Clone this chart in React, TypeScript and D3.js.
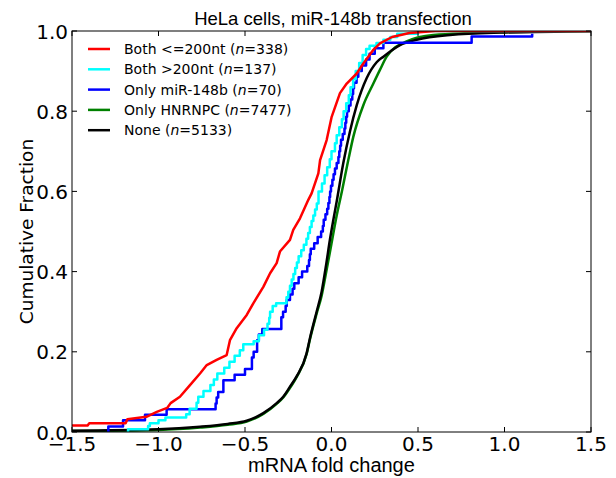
import React from "react";
import * as d3 from "d3";

const xTicks = [-1.5, -1.0, -0.5, 0.0, 0.5, 1.0, 1.5];
const yTicks = [0.0, 0.2, 0.4, 0.6, 0.8, 1.0];

const seriesNames = ["Both <=200nt", "Both >200nt", "Only miR-148b", "Only HNRNPC", "None"];
const seriesN = ["338", "137", "70", "7477", "5133"];
const seriesColors = ["#ff0000", "#00ffff", "#0000ff", "#008000", "#000000"];

// [fold change, cumulative fraction]
const redPts: [number, number][] = [[-1.6,0.016],[-1.41,0.016],[-1.40,0.022],[-1.19,0.022],[-1.18,0.032],[-1.07,0.038],[-1.01,0.05],[-0.95,0.06],[-0.93,0.072],[-0.876,0.088],[-0.818,0.117],[-0.76,0.146],[-0.721,0.167],[-0.664,0.18],[-0.606,0.192],[-0.587,0.229],[-0.548,0.259],[-0.49,0.292],[-0.452,0.321],[-0.394,0.362],[-0.355,0.396],[-0.317,0.421],[-0.298,0.45],[-0.24,0.479],[-0.221,0.504],[-0.182,0.533],[-0.134,0.579],[-0.115,0.595],[-0.076,0.645],[-0.066,0.678],[-0.028,0.728],[0.001,0.786],[0.049,0.845],[0.088,0.869],[0.146,0.894],[0.184,0.919],[0.242,0.953],[0.28,0.969],[0.35,0.985],[0.45,0.995],[0.6,1.0],[1.6,1.0]];

const cyanPts: [number, number][] = [[-1.176,0.007],[-1.06,0.015],[-1.05,0.022],[-1.0,0.029],[-0.96,0.036],[-0.84,0.044],[-0.82,0.058],[-0.78,0.073],[-0.77,0.088],[-0.74,0.102],[-0.70,0.117],[-0.68,0.131],[-0.66,0.146],[-0.62,0.16],[-0.59,0.175],[-0.56,0.19],[-0.53,0.204],[-0.51,0.219],[-0.45,0.226],[-0.42,0.241],[-0.39,0.255],[-0.37,0.27],[-0.36,0.285],[-0.355,0.3],[-0.34,0.314],[-0.32,0.321],[-0.26,0.336],[-0.25,0.35],[-0.24,0.365],[-0.23,0.38],[-0.22,0.394],[-0.21,0.409],[-0.2,0.423],[-0.19,0.438],[-0.175,0.453],[-0.16,0.467],[-0.145,0.482],[-0.135,0.496],[-0.125,0.511],[-0.115,0.526],[-0.105,0.54],[-0.095,0.555],[-0.085,0.57],[-0.075,0.6],[-0.055,0.62],[-0.04,0.64],[-0.025,0.66],[-0.01,0.68],[0.0,0.7],[0.02,0.72],[0.03,0.74],[0.045,0.76],[0.06,0.78],[0.07,0.8],[0.085,0.82],[0.1,0.84],[0.11,0.86],[0.125,0.88],[0.14,0.9],[0.16,0.92],[0.18,0.94],[0.2,0.955],[0.22,0.963],[0.26,0.97],[0.3,0.978],[0.34,0.985],[0.38,0.993],[0.5,1.0],[1.6,1.0]];

const bluePts: [number, number][] = [[-1.29,0.014],[-1.205,0.029],[-1.078,0.043],[-0.953,0.057],[-0.67,0.071],[-0.664,0.086],[-0.655,0.1],[-0.625,0.129],[-0.56,0.143],[-0.5,0.157],[-0.46,0.186],[-0.45,0.2],[-0.43,0.229],[-0.42,0.243],[-0.40,0.257],[-0.29,0.286],[-0.28,0.3],[-0.265,0.314],[-0.259,0.329],[-0.24,0.343],[-0.225,0.357],[-0.215,0.371],[-0.19,0.386],[-0.17,0.4],[-0.14,0.414],[-0.13,0.429],[-0.125,0.443],[-0.12,0.457],[-0.1,0.471],[-0.08,0.486],[-0.06,0.5],[-0.05,0.514],[-0.045,0.529],[-0.035,0.543],[-0.025,0.557],[-0.018,0.571],[-0.012,0.586],[-0.008,0.6],[-0.003,0.614],[0.005,0.629],[0.012,0.643],[0.02,0.657],[0.03,0.671],[0.04,0.686],[0.045,0.7],[0.05,0.714],[0.055,0.729],[0.065,0.743],[0.075,0.757],[0.08,0.771],[0.085,0.786],[0.09,0.8],[0.1,0.814],[0.11,0.829],[0.12,0.843],[0.125,0.857],[0.13,0.871],[0.145,0.886],[0.155,0.9],[0.175,0.914],[0.2,0.929],[0.22,0.943],[0.25,0.957],[0.3,0.971],[0.81,0.986],[1.16,0.993]];

const greenPts: [number, number][] = [[-1.6,0.002],[-1.0,0.005],[-0.76,0.011],[-0.6,0.018],[-0.49,0.026],[-0.394,0.045],[-0.317,0.07],[-0.279,0.086],[-0.24,0.11],[-0.2,0.138],[-0.144,0.194],[-0.124,0.232],[-0.086,0.295],[-0.057,0.34],[-0.03,0.4],[0.0,0.47],[0.03,0.54],[0.06,0.6],[0.097,0.678],[0.126,0.736],[0.184,0.815],[0.242,0.869],[0.28,0.903],[0.319,0.936],[0.434,0.974],[0.588,0.99],[0.974,0.997],[1.6,1.0]];

const blackPts: [number, number][] = [[-1.6,0.003],[-1.0,0.007],[-0.76,0.013],[-0.6,0.02],[-0.49,0.028],[-0.394,0.047],[-0.317,0.072],[-0.279,0.088],[-0.24,0.113],[-0.2,0.14],[-0.144,0.196],[-0.124,0.235],[-0.086,0.3],[-0.057,0.35],[-0.03,0.42],[-0.009,0.48],[0.011,0.53],[0.03,0.575],[0.068,0.67],[0.107,0.75],[0.146,0.815],[0.203,0.882],[0.261,0.922],[0.3,0.936],[0.396,0.965],[0.492,0.978],[0.685,0.99],[0.974,0.996],[1.6,1.0]];

const W = 616, H = 478;
const m = { left: 72, right: 591, top: 31, bottom: 432 };

export default function App() {
  const x = d3.scaleLinear().domain([-1.5, 1.5]).range([m.left, m.right]);
  const y = d3.scaleLinear().domain([0, 1]).range([m.bottom, m.top]);
  const lineSmooth = d3.line<[number, number]>().x(d => x(d[0])).y(d => y(d[1])).curve(d3.curveMonotoneX);
  const lineRed = d3.line<[number, number]>().x(d => x(d[0])).y(d => y(d[1]));
  const lineStep = d3.line<[number, number]>().x(d => x(d[0])).y(d => y(d[1])).curve(d3.curveStepAfter);
  const withStart = (pts: [number, number][]): [number, number][] => [[pts[0][0], 0], ...pts];

  const paths = [
    { d: lineSmooth(greenPts), c: seriesColors[3] },
    { d: lineSmooth(blackPts), c: seriesColors[4] },
    { d: lineStep(withStart(bluePts)), c: seriesColors[2] },
    { d: lineStep(withStart(cyanPts)), c: seriesColors[1] },
    { d: lineRed(redPts), c: seriesColors[0] },
  ];
  const fmt = (v: number) => v.toFixed(1).replace("-", "\u2212");
  const tickLen = 5;
  return (
    <svg width={W} height={H} style={{ position: "absolute", left: 0, top: 0, background: "#fff" }}>
      <defs>
        <clipPath id="pc"><rect x={m.left} y={m.top} width={m.right - m.left} height={m.bottom - m.top} /></clipPath>
      </defs>
      <rect x={0} y={0} width={W} height={H} fill="#fff" />
      <g clipPath="url(#pc)">
        {paths.map((p, i) => (
          <path key={i} d={p.d || ""} fill="none" stroke={p.c} strokeWidth={2.5} strokeLinejoin="round" />
        ))}
      </g>
      <rect x={m.left} y={m.top} width={m.right - m.left} height={m.bottom - m.top} fill="none" stroke="#000" strokeWidth={1} />
      {xTicks.map((t, i) => (
        <g key={"x" + i}>
          <line x1={x(t)} x2={x(t)} y1={m.bottom} y2={m.bottom - tickLen} stroke="#000" />
          <line x1={x(t)} x2={x(t)} y1={m.top} y2={m.top + tickLen} stroke="#000" />
          <text x={x(t)} y={m.bottom + 19} textAnchor="middle" fontFamily="DejaVu Sans" fontSize={20}>{fmt(t)}</text>
        </g>
      ))}
      {yTicks.map((t, i) => (
        <g key={"y" + i}>
          <line x1={m.left} x2={m.left + tickLen} y1={y(t)} y2={y(t)} stroke="#000" />
          <line x1={m.right} x2={m.right - tickLen} y1={y(t)} y2={y(t)} stroke="#000" />
          <text x={m.left - 4} y={y(t) + 7.5} textAnchor="end" fontFamily="DejaVu Sans" fontSize={20}>{fmt(t)}</text>
        </g>
      ))}
      <text x={333} y={25} textAnchor="middle" fontFamily="Liberation Sans" fontSize={18.5}>HeLa cells, miR-148b transfection</text>
      <text x={(m.left + m.right) / 2} y={472} textAnchor="middle" fontFamily="Liberation Sans" fontSize={20}>mRNA fold change</text>
      <text transform={`translate(33,${(m.top + m.bottom) / 2}) rotate(-90)`} textAnchor="middle" fontFamily="DejaVu Sans" fontSize={18.5}>Cumulative Fraction</text>
      {seriesNames.map((s, i) => {
        const ly = 49 + i * 20.3;
        return (
          <g key={"l" + i}>
            <line x1={88} x2={110} y1={ly} y2={ly} stroke={seriesColors[i]} strokeWidth={2.5} />
            <text x={124} y={ly + 5} fontFamily="DejaVu Sans" fontSize={14}>
              {s} (<tspan fontStyle="italic">n</tspan>={seriesN[i]})
            </text>
          </g>
        );
      })}
    </svg>
  );
}
